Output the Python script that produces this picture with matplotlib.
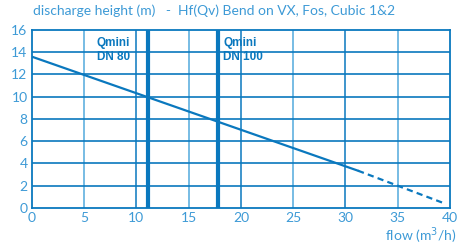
import matplotlib
matplotlib.use('Agg')
import matplotlib.pyplot as plt
import numpy as np

# curve data (flow m3/h, head m)
flow_solid = [0, 31.2]
head_solid = [13.6, 3.35]
flow_dash = [31.2, 39.5]
head_dash = [3.35, 0.4]

# Qmini markers
qmini_flow = [11.1, 17.8]
qmini_top = ['Qmini', 'Qmini']
qmini_bottom = ['DN 80', 'DN 100']
label_x = [6.2, 18.3]

xticks = [0, 5, 10, 15, 20, 25, 30, 35, 40]
yticks = [0, 2, 4, 6, 8, 10, 12, 14, 16]

txt = '#3d9ad6'
dark = '#0a78be'
light = '#6cb6e2'

fig = plt.figure(figsize=(4.68, 2.45), dpi=100)
ax = fig.add_axes([0.0677, 0.151, 0.894, 0.727])
ax.set_xlim(0, 40)
ax.set_ylim(0, 16)

for x in xticks[1:-1]:
    c = dark if x % 10 == 0 else light
    ax.axvline(x, color=c, lw=1.1 if x % 10 == 0 else 1.3, zorder=1)
for y in yticks[1:-1]:
    ax.axhline(y, color=dark, lw=1.2, zorder=1)

for q in qmini_flow:
    ax.axvline(q, color=dark, lw=3, zorder=2)

ax.plot(flow_solid, head_solid, color=dark, lw=1.6, zorder=3)
ax.plot(flow_dash, head_dash, color=dark, lw=1.6, ls=(0, (2.8, 1.9)), zorder=3)

for lx, t1, t2 in zip(label_x, qmini_top, qmini_bottom):
    ax.text(lx, 14.85, t1, color=dark, fontsize=8.5, fontweight='bold',
            family='Liberation Sans', va='center')
    ax.text(lx, 13.55, t2, color=dark, fontsize=8.5, fontweight='bold',
            family='Liberation Sans', va='center')

for s in ax.spines.values():
    s.set_color(dark)
    s.set_linewidth(1.3)

ax.set_xticks(xticks)
ax.set_yticks(yticks)
ax.tick_params(length=0, colors=txt, labelsize=10, pad=3)
for lab in ax.get_xticklabels() + ax.get_yticklabels():
    lab.set_family('Lato')

fig.text(0.07, 0.955, 'discharge height (m)   -  Hf(Qv) Bend on VX, Fos, Cubic 1&2',
         color=txt, fontsize=10, family='Lato', va='center')
fig.text(0.975, 0.04, 'flow (m$^3$/h)', color=txt, fontsize=10, family='Lato',
         ha='right', va='center')

fig.savefig('out.png', dpi=100)
